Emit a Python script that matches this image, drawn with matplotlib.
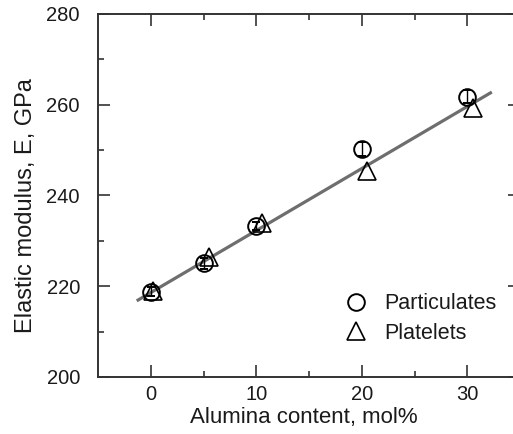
import matplotlib.pyplot as plt
import numpy as np

plt.rcParams['font.family'] = ['Liberation Sans', 'DejaVu Sans']

# Particulates (circles, with small error bars)
part_x = [0, 5, 10, 20, 30]
part_y = [218.8, 225.1, 233.3, 250.3, 261.8]
part_err = [1.0, 1.2, 0.8, 1.5, 1.5]

# Platelets (triangles)
plate_x = [0.2, 5.5, 10.5, 20.5, 30.5]
plate_y = [219.0, 226.5, 234.0, 245.3, 259.3]

# linear fit line
fit_b = 218.6
fit_m = 1.367
fit_x = [-1.2, 32.2]

fig = plt.figure(figsize=(5.13, 4.34), dpi=100)
ax = fig.add_axes([98 / 513, 1 - 377 / 434, 422 / 513, 363 / 434])

fx = np.array(fit_x)
ax.plot(fx, fit_b + fit_m * fx, color='#6e6e6e', lw=2.3, zorder=1)

ax.errorbar(part_x, part_y, yerr=part_err, fmt='o', ms=12, mfc='none',
            mec='black', mew=1.4, ecolor='black', elinewidth=1.0, capsize=3,
            capthick=1.0, zorder=3)
ax.plot(plate_x, plate_y, '^', ms=13, mfc='none', mec='black', mew=1.2,
        zorder=3, linestyle='none')

ax.set_xlim(-5, 35)
ax.set_ylim(200, 280)
ax.set_xticks([0, 10, 20, 30])
ax.set_xticks([5, 15, 25], minor=True)
ax.set_yticks([200, 220, 240, 260, 280])
ax.set_yticks([210, 230, 250, 270], minor=True)
ax.tick_params(which='both', direction='in', top=True, right=True,
               labelsize=14.5, width=1.2, color='#333333', labelcolor='#1a1a1a')
ax.tick_params(which='major', length=8.6, pad=6)
ax.tick_params(which='minor', length=4.3)
ax.tick_params(axis='y', which='major', pad=13)
for s in ax.spines.values():
    s.set_linewidth(1.4)
    s.set_color('#333333')

ax.set_xlabel('Alumina content, mol%', fontsize=16, color='#1a1a1a')
ax.set_ylabel('Elastic modulus, E, GPa', fontsize=17, color='#1a1a1a')
ax.xaxis.set_label_coords(0.488, -0.082)
ax.yaxis.set_label_coords(-0.144, 0.471)

leg_handles = [plt.Line2D([], [], marker='o', ms=12, mfc='none', mec='black', mew=1.4, ls='none'),
               plt.Line2D([], [], marker='^', ms=13, mfc='none', mec='black', mew=1.2, ls='none')]
ax.legend(leg_handles, ['Particulates', 'Platelets'], loc='lower left',
          bbox_to_anchor=(0.541, 0.038), frameon=False, fontsize=15.5,
          handletextpad=0.8, labelspacing=0.4, handlelength=1.0,
          labelcolor='#1a1a1a')

fig.savefig('out.png', dpi=100)
